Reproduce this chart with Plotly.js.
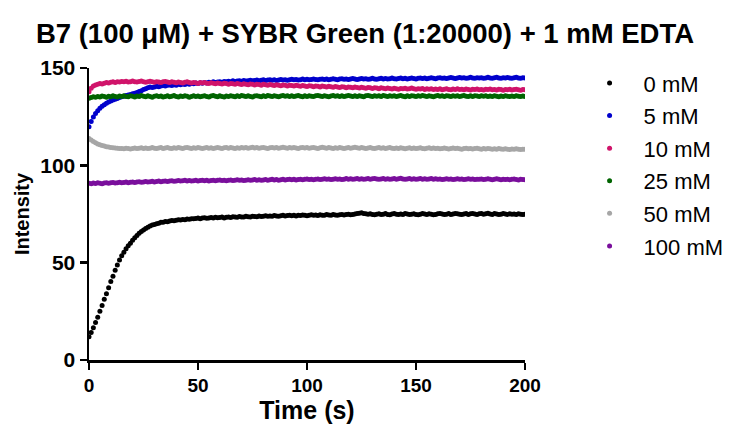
<!DOCTYPE html>
<html>
<head>
<meta charset="utf-8">
<script src="https://cdn.plot.ly/plotly-3.0.1.min.js"></script>
<style>html,body{margin:0;padding:0;background:#fff;}#chart{width:730px;height:430px;}</style>
</head>
<body>
<div id="chart"></div>
<script>
// Sampling: one reading per second, 0..200 s
const timeStep = 1;
const seriesNames = ["0 mM", "5 mM", "10 mM", "25 mM", "50 mM", "100 mM"];
const seriesColors = ["#000000", "#0000CC", "#D0146A", "#006400", "#A6A6A6", "#7A0F9C"];

const mM0 = [
12.0,14.1,16.6,19.2,22.0,25.1,28.0,31.2,34.0,37.1,40.3,43.0,46.1,48.8,51.4,53.6,55.4,57.1,58.7,60.0,61.5,62.8,64.0,65.1,66.0,66.8,67.6,68.2,68.8,69.3,
69.6,70.0,70.3,70.7,70.8,71.1,71.0,71.4,71.6,71.5,71.8,72.0,71.9,72.2,72.1,72.4,72.3,72.6,72.5,72.7,72.9,72.6,72.9,73.1,72.8,73.0,73.2,72.9,73.3,73.1,
73.2,73.4,73.0,73.3,73.5,73.2,73.6,73.4,73.3,73.7,73.5,73.4,73.8,73.6,73.5,73.9,73.7,73.6,74.0,73.7,73.9,74.1,73.8,74.0,73.9,74.2,74.0,73.8,74.1,74.3,
74.0,74.2,74.4,74.1,74.3,74.0,74.4,74.2,74.5,74.3,74.1,74.4,74.6,74.3,74.5,74.2,74.6,74.4,74.3,74.7,74.5,74.4,74.8,74.5,74.3,74.6,74.8,74.5,74.7,74.9,
74.6,74.8,75.0,75.2,75.4,75.6,75.3,75.1,74.9,75.1,74.8,74.6,74.9,75.1,74.7,74.9,75.2,74.8,74.6,75.0,75.2,74.9,74.7,75.0,74.8,75.3,75.0,74.7,74.9,75.1,
74.8,74.6,74.9,75.2,75.0,74.7,75.1,74.9,74.6,74.8,75.1,75.3,75.0,74.7,74.9,75.2,74.8,75.0,75.3,75.1,74.9,74.7,75.0,75.2,74.8,75.1,75.3,75.0,74.8,75.1,
75.2,74.9,75.1,75.4,75.0,74.8,75.2,75.0,74.7,74.9,75.2,75.0,74.8,75.1,74.9,75.0,74.8,75.1,74.9,74.7,74.9];

const mM5 = [
119.8,122.5,124.8,126.6,128.0,129.3,130.4,131.1,131.9,132.5,133.0,133.6,134.0,134.3,134.9,135.2,135.5,135.9,136.1,136.4,136.8,137.0,137.4,137.9,138.3,138.9,139.4,139.8,140.2,140.0,
140.3,140.6,140.4,140.8,141.0,140.7,141.1,141.3,141.0,141.4,141.2,141.6,141.4,141.8,141.5,142.0,141.7,142.1,141.9,142.3,142.0,142.4,142.2,142.6,142.3,142.7,142.5,142.9,142.6,142.8,
143.0,142.7,143.1,142.9,143.2,143.0,143.4,143.1,143.3,143.5,143.2,143.6,143.3,143.5,143.7,143.4,143.6,143.8,143.5,143.7,143.9,143.6,143.8,144.0,143.7,143.9,143.6,143.8,144.1,143.8,
144.0,143.7,143.9,144.2,143.9,144.1,143.8,144.0,144.3,144.0,144.2,143.9,144.1,144.4,144.1,143.9,144.2,144.4,144.1,144.3,144.0,144.2,144.5,144.2,144.0,144.3,144.5,144.2,144.4,144.1,
144.3,144.6,144.3,144.1,144.4,144.6,144.3,144.5,144.2,144.4,144.7,144.4,144.2,144.5,144.7,144.4,144.6,144.3,144.5,144.8,144.5,144.3,144.6,144.8,144.5,144.7,144.4,144.6,144.9,144.6,
144.4,144.7,144.9,144.6,144.8,144.5,144.7,145.0,144.7,144.5,144.8,145.0,144.7,144.9,144.6,144.8,145.1,144.8,144.6,144.9,145.1,144.8,145.0,144.7,144.9,145.2,144.9,144.7,145.0,144.8,
145.0,144.7,144.9,145.2,144.9,144.7,145.0,145.2,144.9,144.7,145.0,144.8,145.1,144.9,144.7,145.0,145.2,144.9,144.7,145.0,144.8];

const mM10 = [
137.8,139.6,140.7,141.3,141.6,142.0,141.8,142.2,142.5,142.3,142.7,142.9,142.6,143.0,142.8,143.1,142.9,143.2,142.8,143.0,143.3,143.0,142.8,143.1,143.3,143.0,142.7,143.0,143.2,142.9,
142.7,143.0,142.8,142.5,142.9,143.1,142.8,142.6,142.9,142.7,142.4,142.8,142.6,142.3,142.7,142.9,142.5,142.3,142.6,142.4,142.1,142.5,142.3,142.6,142.2,142.0,142.4,142.2,141.9,142.3,
142.1,141.8,142.2,142.0,141.7,142.1,141.9,141.6,142.0,141.8,141.5,141.9,141.7,141.4,141.8,141.6,141.3,141.7,141.5,141.2,141.6,141.4,141.1,141.5,141.3,141.0,141.4,141.2,140.9,141.3,
141.1,140.8,141.2,141.0,140.7,141.1,140.9,140.6,141.0,140.8,140.5,140.9,140.7,140.4,140.8,140.6,140.3,140.7,140.5,140.2,140.6,140.4,140.1,140.5,140.3,140.0,140.4,140.2,139.9,140.3,
140.1,139.8,140.2,140.0,139.7,140.1,139.9,139.6,140.0,139.8,139.5,139.9,139.7,139.4,139.8,139.6,139.3,139.7,139.5,139.2,139.6,139.4,139.1,139.5,139.3,139.6,139.2,139.4,139.7,139.3,
139.1,139.4,139.2,139.5,139.0,139.3,139.1,139.4,138.9,139.2,139.0,139.3,138.8,139.1,139.4,139.0,138.8,139.2,139.0,139.3,138.9,139.1,138.8,139.2,139.0,138.7,139.1,138.9,139.2,138.8,
139.0,138.7,139.1,138.9,139.2,138.8,139.0,138.7,139.1,138.9,138.6,139.0,138.8,139.1,138.7,138.9,139.1,138.8,138.6,139.0,138.8];

const mM25 = [
134.4,134.9,135.2,135.0,135.4,135.1,135.6,135.3,135.0,135.5,135.2,135.7,135.4,135.1,135.6,135.3,135.8,135.4,135.2,135.7,135.5,135.1,135.6,135.3,135.9,135.5,135.2,135.7,135.4,135.0,
135.5,135.8,135.3,135.6,135.1,135.4,135.7,135.2,135.5,135.9,135.4,135.1,135.6,135.3,135.8,135.5,135.0,135.4,135.7,135.3,135.6,135.2,135.5,135.8,135.4,135.1,135.6,135.9,135.5,135.2,
135.7,135.4,135.1,135.6,135.3,135.8,135.5,135.2,135.7,135.4,135.9,135.6,135.3,135.7,135.4,135.1,135.6,135.8,135.5,135.2,135.7,135.4,135.9,135.6,135.3,135.8,135.5,135.2,135.6,135.9,
135.5,135.8,135.4,135.7,135.3,135.6,135.9,135.5,135.2,135.7,135.4,135.8,135.5,135.3,135.7,135.9,135.6,135.3,135.8,135.5,135.2,135.6,135.9,135.5,135.8,135.4,135.7,135.3,135.6,135.9,
135.6,135.3,135.7,135.4,135.8,135.5,135.2,135.7,135.9,135.6,135.3,135.8,135.5,135.7,135.4,135.9,135.6,135.3,135.7,135.5,135.8,135.4,135.6,135.9,135.5,135.2,135.7,135.4,135.8,135.6,
135.3,135.7,135.5,135.9,135.6,135.3,135.8,135.5,135.2,135.6,135.9,135.5,135.7,135.4,135.8,135.6,135.3,135.7,135.5,135.8,135.4,135.6,135.9,135.5,135.3,135.7,135.4,135.8,135.6,135.3,
135.7,135.5,135.8,135.4,135.6,135.3,135.7,135.5,135.2,135.6,135.4,135.7,135.5,135.3,135.6,135.4,135.7,135.5,135.3,135.6,135.4];

const mM50 = [
113.8,113.0,112.3,111.6,111.0,110.6,110.2,109.9,109.6,109.4,109.2,109.0,108.9,108.8,108.6,108.7,108.5,108.8,108.6,108.4,108.7,108.9,108.6,108.8,109.0,108.7,108.9,108.6,108.8,109.1,
108.8,108.6,108.9,109.1,108.7,108.9,109.2,108.8,108.6,109.0,108.8,109.1,108.9,108.7,109.0,109.2,108.9,108.7,109.0,108.8,109.1,108.9,108.6,108.9,109.1,108.8,109.0,108.7,108.9,109.2,
108.9,108.7,109.0,109.2,108.8,109.1,108.9,108.6,109.0,108.8,109.1,108.9,109.2,108.8,109.0,109.3,108.9,109.1,108.8,109.0,109.2,108.9,108.7,109.0,109.2,108.9,109.1,108.8,109.0,109.3,
109.0,108.8,109.1,108.9,109.2,108.9,108.7,109.0,109.2,108.9,109.1,108.8,109.0,109.2,108.9,108.7,109.0,109.3,109.0,108.8,109.1,108.9,108.7,109.0,108.8,109.1,108.9,108.6,108.9,109.1,
108.8,109.0,109.3,109.0,108.8,109.1,108.9,108.6,108.9,109.1,108.8,108.6,108.9,109.1,108.8,109.0,108.7,108.9,109.2,108.8,108.6,108.9,108.7,109.0,108.8,108.5,108.8,109.0,108.7,108.9,
108.6,108.8,109.0,108.7,108.5,108.8,109.0,108.7,108.9,108.6,108.8,108.5,108.7,108.9,108.6,108.4,108.7,108.9,108.6,108.8,108.5,108.3,108.6,108.8,108.5,108.7,108.4,108.6,108.8,108.5,
108.3,108.6,108.4,108.7,108.5,108.2,108.5,108.3,108.6,108.4,108.2,108.5,108.3,108.1,108.4,108.2,108.5,108.3,108.1,108.3,108.2];

const mM100 = [
90.8,90.6,90.9,90.7,91.0,90.8,90.6,90.9,91.1,90.8,91.0,91.2,90.9,91.1,91.3,91.0,91.2,91.4,91.1,91.3,91.5,91.2,91.4,91.6,91.3,91.5,91.7,91.4,91.6,91.8,
91.5,91.7,91.9,91.6,91.8,92.0,91.7,91.9,92.1,91.8,92.0,92.2,91.9,92.1,92.3,92.0,92.2,91.9,92.1,92.3,92.0,92.2,92.4,92.1,92.3,92.0,92.2,92.4,92.1,92.3,
92.5,92.2,92.4,92.1,92.3,92.5,92.2,92.4,92.6,92.3,92.5,92.2,92.4,92.6,92.3,92.5,92.7,92.4,92.6,92.3,92.5,92.7,92.4,92.6,92.8,92.5,92.7,92.4,92.6,92.8,
92.5,92.7,92.9,92.6,92.8,92.5,92.7,92.9,92.6,92.8,93.0,92.7,92.9,92.6,92.8,93.0,92.7,92.9,93.1,92.8,93.0,92.7,92.9,93.1,92.8,93.0,92.7,92.9,93.2,92.9,
93.1,92.8,93.0,93.2,92.9,93.1,92.8,93.0,93.2,92.9,93.1,93.3,93.0,92.8,93.0,93.2,92.9,93.1,92.8,93.0,93.2,92.9,93.1,93.4,93.0,92.8,93.0,93.2,92.9,93.1,
92.8,93.0,93.2,92.9,93.1,92.8,93.0,93.2,92.9,93.1,92.8,93.0,92.7,92.9,93.1,92.8,93.0,92.7,92.9,93.1,92.8,93.0,92.7,92.9,93.1,92.8,93.0,92.7,92.9,92.8,
93.0,92.7,92.9,93.1,92.8,92.6,92.9,93.1,92.8,92.6,92.9,92.7,92.9,92.6,92.8,93.0,92.7,92.5,92.8,92.7,92.6];

const xTicks = [0, 50, 100, 150, 200];
const yTicks = [0, 50, 100, 150];

const allSeries = [mM0, mM5, mM10, mM25, mM50, mM100];
const FONT = "Liberation Sans, Arial, Helvetica, sans-serif";

const traces = allSeries.map((vals, k) => ({
  type: "scatter",
  mode: "markers",
  name: seriesNames[k],
  x: vals.map((_, i) => i * timeStep),
  y: vals,
  marker: { color: seriesColors[k], size: 5, line: { width: 0 } },
  legendgroup: "g" + k,
  hoverinfo: "x+y"
}));

const layout = {
  width: 730,
  height: 430,
  paper_bgcolor: "#ffffff",
  plot_bgcolor: "#ffffff",
  margin: { l: 89, r: 205, t: 68, b: 70, autoexpand: false },
  showlegend: true,
  title: {
    text: "B7 (100 μM) + SYBR Green (1:20000) + 1 mM EDTA",
    font: { family: FONT, size: 27.5, color: "#000", weight: 700 },
    xref: "container", x: 0.5, xanchor: "center",
    yref: "container", y: 1 - 33 / 430, yanchor: "middle"
  },
  xaxis: {
    range: [0, 200],
    tickvals: xTicks,
    ticktext: xTicks.map(String),
    showgrid: false, zeroline: false,
    showline: true, linecolor: "#000", linewidth: 2.5,
    ticks: "outside", ticklen: 7, tickwidth: 2.5, tickcolor: "#000",
    tickfont: { family: FONT, size: 19, color: "#000", weight: 700 },
    title: { text: "Time (s)", font: { family: FONT, size: 25, color: "#000", weight: 700 }, standoff: 4 },
    fixedrange: true
  },
  yaxis: {
    range: [0, 150],
    tickvals: yTicks,
    ticktext: yTicks.map(String),
    showgrid: false, zeroline: false,
    showline: true, linecolor: "#000", linewidth: 2.5,
    ticks: "outside", ticklen: 7, tickwidth: 2.5, tickcolor: "#000",
    tickfont: { family: FONT, size: 21, color: "#000", weight: 700 },
    title: { text: "Intensity", font: { family: FONT, size: 20, color: "#000", weight: 700 }, standoff: 6 },
    fixedrange: true
  },
  legend: {
    x: 1.116, xanchor: "left",
    y: 1.02, yanchor: "top",
    font: { family: FONT, size: 22, color: "#000" },
    traceorder: "grouped",
    tracegroupgap: 1,
    itemwidth: 58,
    itemsizing: "trace",
    bgcolor: "rgba(0,0,0,0)"
  }
};

Plotly.newPlot("chart", traces, layout, { displayModeBar: false, staticPlot: true });
</script>
</body>
</html>
